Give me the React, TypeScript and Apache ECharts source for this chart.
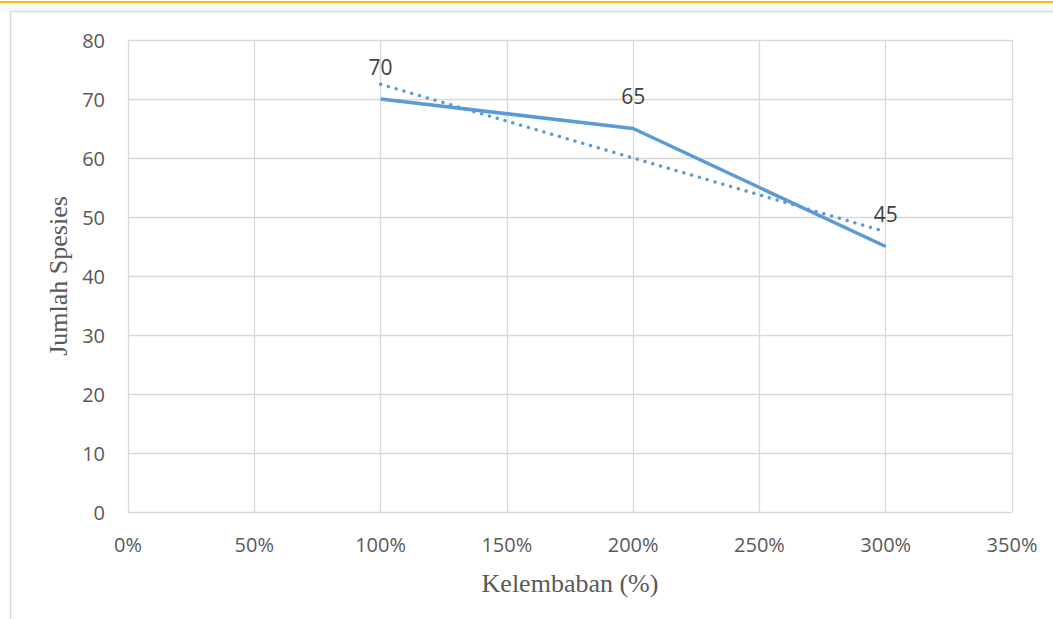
import React, { useEffect, useRef } from "react";
import * as echarts from "echarts";

const xValues = [1, 2, 3];
const speciesCounts = [70, 65, 45];
const trendX = [1, 3];
const trendValues = [72.5, 47.5];
const yAxisTitle = "Jumlah Spesies";
const xAxisTitle = "Kelembaban (%)";

export default function App() {
  const ref = useRef<HTMLDivElement>(null);
  useEffect(() => {
    const chart = echarts.init(ref.current!, null, { renderer: "svg" });
    chart.setOption({
      animation: false,
      backgroundColor: "#ffffff",
      grid: { left: 128, top: 40, right: 41, bottom: 107, containLabel: false },
      graphic: [
        { type: "rect", shape: { x: 0, y: 1, width: 1053, height: 2 }, style: { fill: "#FFC000" }, silent: true },
        { type: "line", shape: { x1: 10, y1: 11.5, x2: 1053, y2: 11.5 }, style: { stroke: "#D9D9D9", lineWidth: 1.5 }, silent: true },
        { type: "line", shape: { x1: 10.5, y1: 11, x2: 10.5, y2: 619 }, style: { stroke: "#D9D9D9", lineWidth: 1.5 }, silent: true },
      ],
      xAxis: {
        type: "value",
        min: 0,
        max: 3.5,
        interval: 0.5,
        name: xAxisTitle,
        nameLocation: "middle",
        nameGap: 58,
        nameTextStyle: { fontFamily: "Liberation Serif", fontSize: 26, color: "#595959" },
        axisLine: { show: false },
        axisTick: { show: false },
        axisLabel: {
          formatter: (v: number) => Math.round(v * 100) + "%",
          fontFamily: "Open Sans",
          fontSize: 20,
          color: "#595959",
          margin: 22,
        },
        splitLine: { show: true, lineStyle: { color: "#D9D9D9", width: 1.3 } },
      },
      yAxis: {
        type: "value",
        min: 0,
        max: 80,
        interval: 10,
        name: yAxisTitle,
        nameLocation: "middle",
        nameGap: 54,
        nameTextStyle: { fontFamily: "Liberation Serif", fontSize: 26, color: "#595959" },
        axisLine: { show: false },
        axisTick: { show: false },
        axisLabel: { fontFamily: "Open Sans", fontSize: 20, color: "#595959", margin: 23 },
        splitLine: { show: true, lineStyle: { color: "#D9D9D9", width: 1.3 } },
      },
      series: [
        {
          type: "line",
          data: trendX.map((x, i) => [x, trendValues[i]]),
          symbol: "none",
          lineStyle: { color: "#5B9BD5", width: 3.4, type: [0.1, 8], cap: "round" },
          z: 2,
        },
        {
          type: "line",
          data: xValues.map((x, i) => [x, speciesCounts[i]]),
          symbol: "circle",
          symbolSize: 2,
          showSymbol: true,
          itemStyle: { color: "rgba(0,0,0,0)" },
          lineStyle: { color: "#5B9BD5", width: 3.5 },
          label: {
            show: true,
            position: "top",
            distance: 21,
            fontFamily: "Open Sans",
            fontSize: 21,
            color: "#404040",
            opacity: 1,
          },
          z: 3,
        },
      ],
    });
    return () => chart.dispose();
  }, []);
  return (
    <div
      ref={ref}
      style={{ position: "absolute", left: 0, top: 0, width: 1053, height: 619 }}
    />
  );
}
